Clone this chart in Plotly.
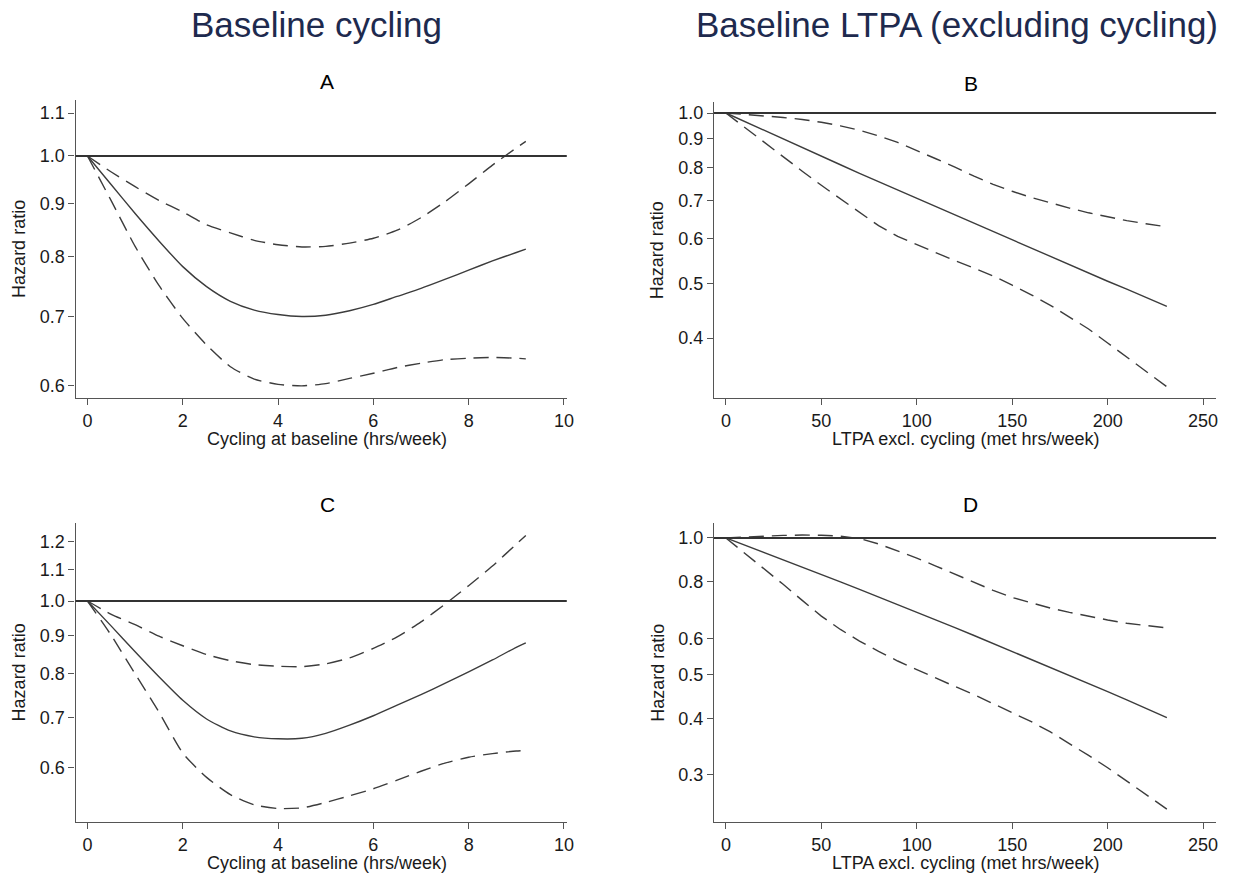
import math
import plotly.graph_objects as go

# ---------------- data ----------------
# Panel A / C : cycling at baseline (hrs/week)
cyc_x = [0, 0.5, 1.0, 1.5, 2.0, 2.5, 3.0, 3.5, 4.0, 4.5, 5.0, 5.5, 6.0, 6.5, 7.0, 7.5, 8.0, 8.5, 9.0, 9.2]

a_hr = [1.0, 0.938, 0.880, 0.828, 0.782, 0.748, 0.724, 0.710, 0.703, 0.700, 0.702, 0.709, 0.719, 0.732,
        0.745, 0.760, 0.776, 0.792, 0.807, 0.813]
a_hi = [1.0, 0.965, 0.934, 0.906, 0.883, 0.858, 0.843, 0.829, 0.821, 0.817, 0.818, 0.824, 0.833, 0.848,
        0.872, 0.903, 0.940, 0.980, 1.018, 1.033]
a_lo = [1.0, 0.905, 0.818, 0.750, 0.697, 0.657, 0.626, 0.609, 0.602, 0.600, 0.603, 0.610, 0.617, 0.625,
        0.631, 0.636, 0.638, 0.639, 0.638, 0.637]

c_hr = [1.0, 0.926, 0.856, 0.793, 0.738, 0.697, 0.672, 0.660, 0.656, 0.657, 0.667, 0.684, 0.704, 0.727,
        0.751, 0.777, 0.805, 0.835, 0.868, 0.880]
c_hi = [1.0, 0.96, 0.93, 0.898, 0.872, 0.849, 0.833, 0.823, 0.819, 0.818, 0.825, 0.840, 0.865, 0.896,
        0.938, 0.990, 1.048, 1.113, 1.190, 1.222]
c_lo = [1.0, 0.90, 0.80, 0.712, 0.628, 0.583, 0.553, 0.536, 0.530, 0.531, 0.540, 0.551, 0.563, 0.578,
        0.594, 0.609, 0.620, 0.627, 0.632, 0.633]

# Panel B / D : LTPA excl. cycling (met hrs/week)
ltpa_x = [0, 10, 20, 30, 40, 50, 60, 70, 80, 90, 100, 110, 120, 130, 140, 150, 160, 170, 180, 190, 200,
          210, 220, 231]

b_hr = [1.0, 0.965, 0.932, 0.899, 0.868, 0.839, 0.810, 0.782, 0.756, 0.730, 0.705, 0.682, 0.659, 0.637,
        0.616, 0.595, 0.576, 0.557, 0.538, 0.521, 0.504, 0.488, 0.472, 0.455]
b_hi = [1.0, 0.995, 0.988, 0.982, 0.974, 0.963, 0.949, 0.932, 0.911, 0.887, 0.859, 0.830, 0.802, 0.773,
        0.748, 0.727, 0.709, 0.693, 0.679, 0.666, 0.655, 0.645, 0.637, 0.629]
b_lo = [1.0, 0.942, 0.886, 0.836, 0.789, 0.745, 0.705, 0.666, 0.632, 0.605, 0.585, 0.565, 0.548, 0.532,
        0.515, 0.496, 0.477, 0.457, 0.436, 0.415, 0.392, 0.370, 0.349, 0.328]

d_hr = [1.0, 0.964, 0.929, 0.896, 0.863, 0.831, 0.800, 0.770, 0.741, 0.713, 0.686, 0.660, 0.634, 0.609,
        0.585, 0.562, 0.540, 0.518, 0.497, 0.477, 0.458, 0.439, 0.421, 0.401]
d_hi = [1.0, 1.005, 1.010, 1.013, 1.015, 1.014, 1.009, 0.997, 0.970, 0.936, 0.903, 0.867, 0.832, 0.798,
        0.766, 0.739, 0.718, 0.700, 0.685, 0.671, 0.659, 0.648, 0.640, 0.633]
d_lo = [1.0, 0.925, 0.855, 0.79, 0.728, 0.672, 0.628, 0.592, 0.562, 0.535, 0.512, 0.49, 0.47, 0.451,
        0.431, 0.412, 0.393, 0.373, 0.352, 0.331, 0.311, 0.291, 0.272, 0.252]

ref_hr = 1.0

# tick labels
cyc_ticks = [0, 2, 4, 6, 8, 10]
ltpa_ticks = [0, 50, 100, 150, 200, 250]
a_yticks = [0.6, 0.7, 0.8, 0.9, 1.0, 1.1]
b_yticks = [0.4, 0.5, 0.6, 0.7, 0.8, 0.9, 1.0]
c_yticks = [0.6, 0.7, 0.8, 0.9, 1.0, 1.1, 1.2]
d_yticks = [0.3, 0.4, 0.5, 0.6, 0.8, 1.0]

col_titles = ["Baseline cycling", "Baseline LTPA (excluding cycling)"]
panel_letters = ["A", "B", "C", "D"]
x_titles = ["Cycling at baseline (hrs/week)", "LTPA excl. cycling (met hrs/week)"]
y_title = "Hazard ratio"

# ---------------- layout geometry ----------------
W, H = 1240, 877
FONT = "Liberation Sans, Arial, sans-serif"
LINE_COL = "#3c3c3c"
AX_COL = "#555555"
TXT_COL = "#1a1a1a"
NAVY = "#1e2a4e"
TICK_SIZE = 18
TITLE_SIZE = 18


def px_x(v):
    return v / W


def px_y(v):
    return 1 - v / H


panels = [
    # (x, hr, hi, lo, xdom px, ydom px, xrange, yrange, xticks, yticks, spline)
    (cyc_x, a_hr, a_hi, a_lo, (76, 570), (100, 398), (-0.25, 10.06), (0.584, 1.1325), cyc_ticks, a_yticks, True),
    (ltpa_x, b_hr, b_hi, b_lo, (718, 1223), (102, 398), (-6.25, 256.8), (0.3133, 1.0458), ltpa_ticks, b_yticks, False),
    (cyc_x, c_hr, c_hi, c_lo, (76, 570), (523, 822), (-0.25, 10.06), (0.5086, 1.2695), cyc_ticks, c_yticks, True),
    (ltpa_x, d_hr, d_hi, d_lo, (718, 1223), (523, 822), (-6.25, 256.8), (0.236, 1.079), ltpa_ticks, d_yticks, False),
]

fig = go.Figure()
layout = dict(
    width=W, height=H,
    margin=dict(l=0, r=0, t=0, b=0),
    paper_bgcolor="white", plot_bgcolor="white",
    showlegend=False,
    font=dict(family=FONT, color=TXT_COL, size=TICK_SIZE),
)
shapes = []
annotations = []

for i, (xs, hr, hi, lo, xd, yd, xr, yr, xt, yt, spl) in enumerate(panels):
    n = i + 1
    xa = "x" if n == 1 else f"x{n}"
    ya = "y" if n == 1 else f"y{n}"
    xkey = "xaxis" if n == 1 else f"xaxis{n}"
    ykey = "yaxis" if n == 1 else f"yaxis{n}"

    for ys, dash in ((hi, "15px,8px"), (lo, "15px,8px"), (hr, "solid")):
        line = dict(color=LINE_COL, width=1.4, dash=dash)
        if spl:
            line.update(shape="spline", smoothing=0.6)
        fig.add_trace(go.Scatter(x=xs, y=ys, mode="lines", xaxis=xa, yaxis=ya, line=line,
                                 hoverinfo="skip"))

    layout[xkey] = dict(
        domain=[px_x(xd[0]), px_x(xd[1])], range=list(xr), anchor=ya,
        showline=True, linecolor=AX_COL, linewidth=1.3, ticks="outside", ticklen=6,
        tickcolor=AX_COL, tickwidth=1.3, tickvals=xt, ticktext=[str(t) for t in xt],
        showgrid=False, zeroline=False, tickfont=dict(size=TICK_SIZE, color=TXT_COL),
    )
    layout[ykey] = dict(
        domain=[px_y(yd[1]), px_y(yd[0])], type="log",
        range=[math.log10(yr[0]), math.log10(yr[1])], anchor=xa,
        showline=True, linecolor=AX_COL, linewidth=1.3, ticks="outside", ticklen=6,
        tickcolor=AX_COL, tickwidth=1.3, tickvals=yt, ticktext=[f"{t:.1f}" for t in yt],
        showgrid=False, zeroline=False, tickfont=dict(size=TICK_SIZE, color=TXT_COL),
    )

    # reference line at HR = 1
    shapes.append(dict(type="line", xref=f"{xa} domain", yref=ya, x0=0, x1=1, y0=ref_hr, y1=ref_hr,
                       line=dict(color="#333333", width=2)))

    col = i % 2
    xc = (xd[0] + xd[1]) / 2
    annotations.append(dict(text=panel_letters[i], x=px_x(xc + 6), y=px_y(yd[0] - 19), xref="paper",
                            yref="paper", showarrow=False, xanchor="center", yanchor="middle",
                            font=dict(size=21, color="#000000", family=FONT)))
    annotations.append(dict(text=x_titles[col], x=px_x(xc + (6 if col == 0 else 0)), y=px_y(yd[1] + 41),
                            xref="paper", yref="paper", showarrow=False, xanchor="center",
                            yanchor="middle", font=dict(size=TITLE_SIZE, color=TXT_COL, family=FONT)))
    annotations.append(dict(text=y_title, x=px_x(xd[0] - 57), y=px_y((yd[0] + yd[1]) / 2), xref="paper",
                            yref="paper", showarrow=False, xanchor="center", yanchor="middle", textangle=-90,
                            font=dict(size=TITLE_SIZE, color=TXT_COL, family=FONT)))

annotations.append(dict(text=col_titles[0], x=px_x(318), y=px_y(24), xref="paper", yref="paper",
                        showarrow=False, xanchor="center", yanchor="middle",
                        font=dict(size=35, color=NAVY, family=FONT)))
annotations.append(dict(text=col_titles[1], x=px_x(962), y=px_y(24), xref="paper", yref="paper",
                        showarrow=False, xanchor="center", yanchor="middle",
                        font=dict(size=35, color=NAVY, family=FONT)))

layout["shapes"] = shapes
layout["annotations"] = annotations
fig.update_layout(**layout)

fig.write_html("out.html", config={"displayModeBar": False},
               post_script="document.body.style.margin='0';document.body.style.overflow='hidden';")
